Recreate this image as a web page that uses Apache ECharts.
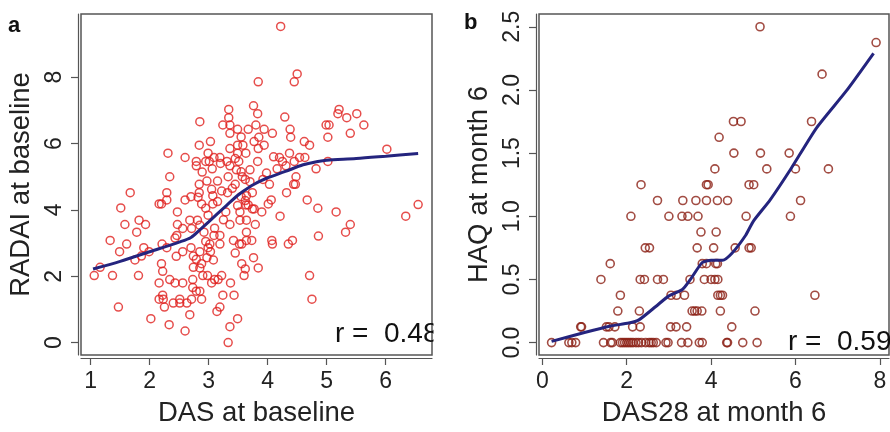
<!DOCTYPE html>
<html>
<head>
<meta charset="utf-8">
<script src="https://cdn.jsdelivr.net/npm/echarts@6/dist/echarts.min.js"></script>
<style>html,body{margin:0;padding:0;background:#fff}#c{width:890px;height:432px}</style>
</head>
<body>
<div id="c"></div>
<script>
// Panel a: DAS at baseline (x) vs RADAI at baseline (y)
const panelAPoints = [[4.22,9.53],[4.50,8.10],[4.45,7.86],[3.84,7.86],[3.76,7.14],[3.34,7.03],[3.34,6.78],[3.83,6.90],[2.85,6.66],[4.29,6.80],[5.21,7.03],[5.19,6.90],[5.34,6.78],[5.51,6.90],[5.63,6.56],[5.40,6.31],[4.99,6.56],[5.04,6.56],[5.02,6.19],[3.24,6.56],[3.36,6.56],[3.36,6.31],[3.49,6.43],[3.80,6.56],[3.94,6.43],[3.67,6.43],[4.08,6.31],[4.38,6.43],[4.39,6.19],[3.03,6.06],[2.84,5.95],[4.62,6.06],[4.71,5.95],[3.85,6.19],[3.77,6.06],[3.94,5.95],[3.84,5.85],[2.31,5.71],[2.60,5.58],[2.99,5.71],[3.09,5.58],[3.36,5.85],[3.49,5.95],[3.58,5.95],[3.63,5.71],[3.49,5.71],[6.02,5.83],[2.79,5.46],[2.79,5.33],[2.95,5.46],[3.01,5.46],[3.19,5.58],[3.31,5.46],[3.36,5.33],[3.51,5.46],[3.83,5.46],[4.20,5.58],[4.37,5.71],[4.25,5.46],[4.31,5.33],[4.45,5.46],[4.54,5.58],[4.63,5.58],[5.02,5.46],[4.82,5.24],[2.89,5.14],[3.06,5.24],[3.47,5.21],[3.70,5.21],[3.98,5.11],[4.16,5.24],[2.34,5.00],[3.33,5.00],[3.57,5.00],[3.62,4.92],[4.48,5.00],[2.97,4.87],[3.15,4.87],[2.84,4.77],[3.45,4.77],[4.03,4.77],[4.44,4.77],[4.47,4.77],[3.92,4.92],[3.05,4.62],[2.84,4.52],[2.82,4.38],[1.67,4.52],[2.29,4.52],[3.22,4.57],[3.32,4.52],[3.64,4.43],[3.74,4.52],[4.32,4.52],[2.60,4.30],[2.70,4.40],[2.16,4.18],[2.20,4.18],[2.29,4.30],[2.88,4.18],[3.07,4.43],[3.07,4.18],[3.49,4.13],[3.63,4.15],[3.67,4.15],[4.01,4.18],[4.06,4.30],[4.67,4.30],[1.51,4.06],[4.85,4.05],[3.74,4.03],[3.77,4.03],[3.62,4.28],[2.47,3.94],[3.29,3.94],[3.53,3.94],[3.90,3.94],[5.16,3.94],[6.34,3.81],[6.55,4.16],[4.21,3.81],[2.99,3.84],[1.82,3.69],[1.93,3.56],[1.58,3.56],[2.47,3.56],[2.68,3.69],[2.81,3.69],[2.85,3.54],[3.36,3.56],[3.53,3.69],[3.64,3.69],[3.79,3.56],[5.40,3.56],[5.32,3.33],[2.56,3.44],[2.71,3.44],[2.92,3.33],[3.64,3.33],[1.78,3.33],[2.46,3.23],[2.43,3.15],[3.09,3.23],[3.19,3.23],[4.86,3.21],[1.33,3.08],[3.42,3.08],[3.64,3.08],[3.73,3.08],[4.07,3.08],[4.42,3.08],[1.61,2.97],[2.21,2.97],[3.02,2.97],[2.99,2.86],[3.19,2.97],[3.52,2.97],[3.56,2.97],[4.08,2.97],[4.35,2.97],[2.29,2.86],[2.70,2.86],[1.90,2.86],[1.99,2.74],[1.49,2.74],[2.56,2.74],[2.85,2.74],[2.74,2.61],[3.03,2.74],[1.86,2.61],[2.79,2.51],[3.08,2.49],[1.75,2.49],[2.97,2.56],[3.76,2.56],[2.88,2.38],[2.20,2.38],[3.56,2.38],[2.74,2.27],[3.62,2.22],[3.84,2.25],[2.85,2.25],[2.22,2.15],[1.06,2.02],[1.37,2.02],[1.81,2.02],[2.90,2.02],[2.98,2.02],[3.60,2.02],[3.22,2.02],[4.71,2.02],[3.10,1.90],[3.16,1.90],[2.34,1.90],[2.73,1.90],[2.43,1.80],[2.56,1.80],[2.16,1.80],[3.05,1.80],[3.37,1.80],[2.73,1.66],[2.79,1.55],[2.85,1.55],[2.22,1.43],[3.24,1.43],[3.43,1.43],[2.16,1.31],[2.23,1.31],[2.51,1.31],[2.71,1.31],[2.88,1.31],[4.75,1.31],[2.40,1.19],[2.51,1.19],[2.63,1.19],[2.25,1.07],[1.47,1.07],[3.19,1.07],[3.14,0.94],[2.68,0.84],[2.02,0.72],[3.49,0.72],[3.36,0.48],[2.33,0.54],[2.60,0.35],[3.33,0.00],[1.16,2.27],[3.20,5.40],[3.45,5.55],[3.55,5.15],[3.40,4.65],[3.15,4.25],[2.95,4.05],[3.55,4.40],[3.70,4.85],[3.25,3.70],[3.10,3.45],[2.95,3.05],[3.45,2.70],[2.45,2.60],[4.10,5.60],[3.55,6.20]];
const panelALowess = [[1.04,2.22],[1.5,2.45],[2.0,2.74],[2.5,3.03],[2.7,3.17],[2.85,3.40],[3.0,3.64],[3.3,4.13],[3.5,4.45],[3.7,4.70],[3.9,4.89],[4.0,4.97],[4.3,5.16],[4.6,5.36],[4.85,5.46],[5.0,5.50],[5.5,5.55],[6.0,5.62],[6.55,5.70]];

// Panel b: DAS28 at month 6 (x) vs HAQ at month 6 (y)
const panelBPoints = [[5.16,2.5],[7.91,2.375],[6.63,2.125],[4.53,1.75],[4.71,1.75],[6.38,1.75],[4.19,1.625],[4.54,1.5],[5.17,1.5],[5.85,1.5],[4.09,1.375],[5.32,1.375],[6.00,1.375],[6.78,1.375],[2.34,1.25],[3.89,1.25],[3.93,1.25],[4.90,1.25],[5.01,1.25],[2.73,1.125],[3.33,1.125],[3.64,1.125],[3.89,1.125],[4.15,1.125],[4.39,1.125],[6.12,1.125],[2.10,1.0],[3.00,1.0],[3.31,1.0],[3.45,1.0],[3.69,1.0],[4.83,1.0],[5.88,1.0],[3.76,0.875],[4.12,0.875],[2.44,0.75],[2.54,0.75],[3.67,0.75],[4.06,0.75],[4.57,0.75],[4.90,0.75],[4.95,0.75],[1.61,0.625],[3.79,0.625],[3.89,0.625],[4.11,0.625],[4.15,0.625],[1.39,0.5],[2.32,0.5],[2.42,0.5],[2.73,0.5],[2.87,0.5],[3.50,0.5],[3.84,0.5],[4.00,0.5],[4.09,0.5],[4.16,0.5],[1.85,0.375],[3.05,0.375],[3.18,0.375],[3.37,0.375],[4.16,0.375],[4.22,0.375],[4.27,0.375],[6.46,0.375],[1.79,0.25],[2.30,0.25],[3.55,0.25],[3.61,0.25],[3.67,0.25],[3.78,0.25],[4.22,0.25],[5.04,0.25],[0.91,0.125],[0.93,0.125],[1.52,0.125],[1.58,0.125],[1.72,0.125],[2.14,0.125],[2.32,0.125],[3.04,0.125],[3.17,0.125],[3.42,0.125],[4.49,0.125],[0.22,0],[0.63,0],[0.70,0],[0.79,0],[1.45,0],[1.62,0],[1.66,0],[1.85,0],[1.90,0],[1.95,0],[2.00,0],[2.05,0],[2.10,0],[2.15,0],[2.22,0],[2.28,0],[2.35,0],[2.45,0],[2.53,0],[2.58,0],[2.63,0],[2.70,0],[2.93,0],[2.98,0],[3.30,0],[3.45,0],[3.72,0],[3.79,0],[4.37,0],[4.39,0],[4.75,0],[5.09,0]];
const panelBLowess = [[0.22,0.01],[1.0,0.08],[1.6,0.13],[2.05,0.155],[2.29,0.18],[2.69,0.286],[3.0,0.37],[3.32,0.42],[3.52,0.505],[3.79,0.634],[4.0,0.652],[4.27,0.652],[4.5,0.71],[4.82,0.85],[5.0,0.96],[5.4,1.13],[5.9,1.38],[6.5,1.70],[7.2,1.99],[7.85,2.29]];

const xTicksA = [1,2,3,4,5,6];
const yTicksA = [0,2,4,6,8];
const xTicksB = [0,2,4,6,8];
const yTicksB = [0,0.5,1,1.5,2,2.5];

const FONT = '"Liberation Sans", Arial, Helvetica, sans-serif';
const axisCol = '#555';
const textCol = '#222';

function xAxisCfg(grid, min, max, ticks, name, fmt) {
  return {
    gridIndex: grid, type: 'value', min: min, max: max, offset: 3,
    axisLine: {show: true, onZero: false, lineStyle: {color: axisCol, width: 1.2}},
    axisTick: {show: true, customValues: ticks, length: 7, lineStyle: {color: axisCol, width: 1.2}},
    axisLabel: {show: true, customValues: ticks, fontSize: 23, color: textCol, fontFamily: FONT, margin: 12, formatter: fmt},
    splitLine: {show: false},
    name: name, nameLocation: 'middle', nameGap: 41,
    nameTextStyle: {fontSize: 27.5, color: textCol, fontFamily: FONT}
  };
}
function yAxisCfg(grid, min, max, ticks, name, fmt) {
  return {
    gridIndex: grid, type: 'value', min: min, max: max, offset: 3,
    axisLine: {show: true, onZero: false, lineStyle: {color: axisCol, width: 1.2}},
    axisTick: {show: true, customValues: ticks, length: 7, lineStyle: {color: axisCol, width: 1.2}},
    axisLabel: {show: true, customValues: ticks, fontSize: 23, color: textCol, fontFamily: FONT, margin: 12, rotate: 90, formatter: fmt},
    splitLine: {show: false},
    name: name, nameLocation: 'middle', nameGap: 43,
    nameTextStyle: {fontSize: 27.5, color: textCol, fontFamily: FONT}
  };
}

const chart = echarts.init(document.getElementById('c'), null, {renderer: 'canvas'});
chart.setOption({
  animation: false,
  backgroundColor: '#fff',
  grid: [
    {left: 81, top: 14, width: 351, height: 349, show: true, borderColor: axisCol, borderWidth: 1.5, backgroundColor: 'transparent'},
    {left: 539, top: 14, width: 350, height: 349, show: true, borderColor: axisCol, borderWidth: 1.5, backgroundColor: 'transparent'}
  ],
  xAxis: [
    xAxisCfg(0, 0.836, 6.785, xTicksA, 'DAS at baseline', v => String(v)),
    xAxisCfg(1, -0.078, 8.216, xTicksB, 'DAS28 at month 6', v => String(v))
  ],
  yAxis: [
    yAxisCfg(0, -0.374, 9.906, yTicksA, 'RADAI at baseline', v => String(v)),
    yAxisCfg(1, -0.098, 2.601, yTicksB, 'HAQ at month 6', v => v.toFixed(1))
  ],
  series: [
    {type: 'scatter', xAxisIndex: 0, yAxisIndex: 0, data: panelAPoints, symbol: 'circle', symbolSize: 8,
     itemStyle: {color: 'rgba(0,0,0,0)', borderColor: '#e0201e', borderWidth: 1.5}, z: 2},
    {type: 'line', xAxisIndex: 0, yAxisIndex: 0, data: panelALowess, showSymbol: false, smooth: 0.3,
     lineStyle: {color: '#24247e', width: 3}, z: 3},
    {type: 'scatter', xAxisIndex: 1, yAxisIndex: 1, data: panelBPoints, symbol: 'circle', symbolSize: 8,
     itemStyle: {color: 'rgba(0,0,0,0)', borderColor: '#8b1f14', borderWidth: 1.6}, z: 2},
    {type: 'line', xAxisIndex: 1, yAxisIndex: 1, data: panelBLowess, showSymbol: false, smooth: 0.2,
     lineStyle: {color: '#24247e', width: 3}, z: 3}
  ],
  graphic: [
    {type: 'text', left: 335, top: 320, z: 10, style: {text: 'r =  0.48', fontSize: 28, fill: '#111', fontFamily: FONT}},
    {type: 'rect', shape: {x: 433.5, y: 300, width: 11, height: 60}, style: {fill: '#fff'}, z: 11},
    {type: 'text', left: 788, top: 328, z: 10, style: {text: 'r =  0.59', fontSize: 28, fill: '#111', fontFamily: FONT}},
    {type: 'text', left: 8, top: 15, z: 10, style: {text: 'a', fontSize: 22, fontWeight: 'bold', fill: '#111', fontFamily: FONT}},
    {type: 'text', left: 464, top: 12, z: 10, style: {text: 'b', fontSize: 22, fontWeight: 'bold', fill: '#111', fontFamily: FONT}}
  ]
});
</script>
</body>
</html>
